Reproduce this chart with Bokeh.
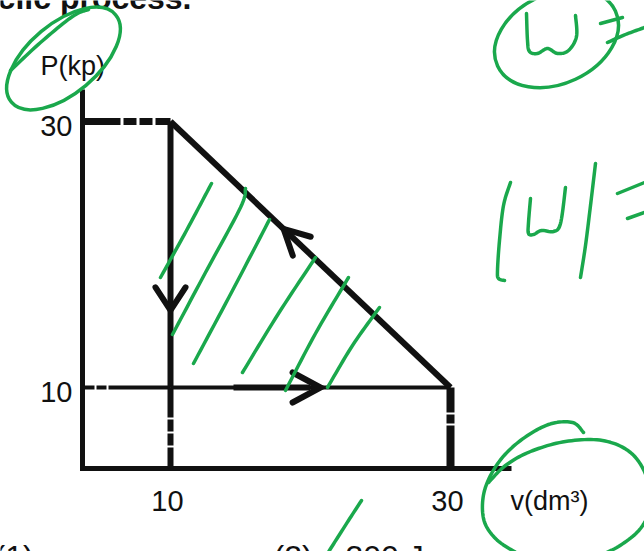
import numpy as np
from bokeh.plotting import figure
from bokeh.models import Range1d
from bokeh.core.properties import value
from bokeh.embed import file_html
from bokeh.resources import INLINE

# ---- cycle data: volume (dm^3) and pressure (kPa) of the three states ----
state_names = ["A", "B", "C"]
state_v = [10, 10, 30]
state_p = [30, 10, 10]

v_ticks = [10, 30]
v_tick_labels = ["10", "30"]
p_ticks = [10, 30]
p_tick_labels = ["10", "30"]

# ---- page geometry ----
W, H = 644, 551
X10, X30 = 170, 450          # screen x of V = 10 and V = 30
Y10, Y30 = 387, 121          # screen y of P = 10 and P = 30
SX = (X30 - X10) / 20.0
SY = (Y10 - Y30) / 20.0
TEXT_SHIFT = -10             # lifts the baseline of every text


def dx(px):
    return 10 + (px - X10) / SX


def dy(py):
    return 10 + (Y10 - py) / SY


def to_px(v, pr):
    return X10 + (v - 10) * SX, Y10 - (pr - 10) * SY


p = figure(width=W, height=H, x_range=Range1d(dx(0), dx(W)),
           y_range=Range1d(dy(H), dy(0)), x_axis_type=None, y_axis_type=None,
           output_backend="svg", toolbar_location=None, min_border=0)
p.grid.visible = False
p.outline_line_color = None
p.background_fill_color = "white"
p.border_fill_color = "white"

INK = "#111111"
GREEN = "#1aa84c"
FONT = value("Liberation Sans")

# axis frame
v0, p0 = dx(82), dy(468)
v_end, p_top = dx(511), dy(89)
p.line([v0, v0, v_end], [p_top, p0, p0], line_width=5, line_color=INK,
       line_join="miter")

# dashed guides from the states to the axes
A, B, C = 0, 1, 2
p.line([v0, state_v[A]], [state_p[A], state_p[A]], line_width=7,
       line_color=INK, line_dash="38 3 13 3 13 3")
p.line([v0, state_v[B]], [state_p[B], state_p[B]], line_width=4,
       line_color=INK, line_dash="12 2 10 2 200 2")
p.line([state_v[B], state_v[B]], [state_p[B], p0], line_width=6,
       line_color=INK, line_dash="30 2 12 2 12 2 60 2")
p.line([state_v[C], state_v[C]], [state_p[C], p0], line_width=8,
       line_color=INK, line_dash="25 2 9 2 80 2")

# the three processes A->B, B->C, C->A
p.line([state_v[A], state_v[B]], [state_p[A], state_p[B]], line_width=6,
       line_color=INK)
p.line([state_v[B], state_v[C]], [state_p[B], state_p[C]], line_width=4,
       line_color=INK)
p.line([state_v[C], state_v[A]], [state_p[C], state_p[A]], line_width=6,
       line_color=INK)

# heavier stroke on part of B->C
t0, t1 = 0.225, 0.5
p.line([state_v[B] + t0 * (state_v[C] - state_v[B]),
        state_v[B] + t1 * (state_v[C] - state_v[B])],
       [state_p[B], state_p[C]], line_width=6, line_color=INK)


def arrow_head(i, j, t, length, half):
    x1, y1 = to_px(state_v[i], state_p[i])
    x2, y2 = to_px(state_v[j], state_p[j])
    tx, ty = x1 + t * (x2 - x1), y1 + t * (y2 - y1)
    ux, uy = x2 - x1, y2 - y1
    n = np.hypot(ux, uy)
    ux, uy = ux / n, uy / n
    bx, by = tx - length * ux, ty - length * uy
    w1 = (bx + half * uy, by - half * ux)
    w2 = (bx - half * uy, by + half * ux)
    xs = [dx(w1[0]), dx(tx), dx(w2[0])]
    ys = [dy(w1[1]), dy(ty), dy(w2[1])]
    return xs, ys


heads = [arrow_head(A, B, 0.71, 23, 15),
         arrow_head(B, C, 0.536, 28, 15),
         arrow_head(C, A, 0.596, 25, 13)]
p.multi_line([h[0] for h in heads], [h[1] for h in heads], line_width=6,
             line_color=INK, line_join="miter", line_cap="round")

# tick labels and axis titles
p.text(x=[v0] * 2, y=p_ticks, text=p_tick_labels, x_offset=-10,
       y_offset=14 + TEXT_SHIFT, text_align="right",
       text_baseline="alphabetic", text_font=FONT, text_font_size="29px",
       text_color=INK)
p.text(x=v_ticks, y=[p0] * 2, text=v_tick_labels, x_offset=-3,
       y_offset=42 + TEXT_SHIFT, text_align="center",
       text_baseline="alphabetic", text_font=FONT, text_font_size="29px",
       text_color=INK)
p.text(x=[v0], y=[p_top], text=["P(kp)"], x_offset=-42,
       y_offset=-14 + TEXT_SHIFT, text_align="left",
       text_baseline="alphabetic", text_font=FONT, text_font_size="27px",
       text_color=INK)
p.text(x=[v_end], y=[p0], text=["v(dm³)"], x_offset=-1,
       y_offset=42 + TEXT_SHIFT, text_align="left",
       text_baseline="alphabetic", text_font=FONT, text_font_size="27px",
       text_color=INK)

# surrounding question text (cut by the page edges)
p.text(x=[dx(191)], y=[dy(7)], text=["cyclic process."], y_offset=TEXT_SHIFT,
       text_align="right", text_baseline="alphabetic", text_font=FONT,
       text_font_size="32px", text_font_style="bold", text_color=INK)
p.text(x=[dx(-6), dx(273), dx(345)], y=[dy(566)] * 3,
       text=["(1)", "(2)", "300 J"], y_offset=TEXT_SHIFT, text_align="left",
       text_baseline="alphabetic", text_font=FONT, text_font_size="32px",
       text_color=INK)


# ---- green pen annotations (screen pixels) ----
def smooth(pts, n=12):
    pts = np.asarray(pts, dtype=float)
    if len(pts) < 3:
        return pts[:, 0], pts[:, 1]
    ext = np.vstack([pts[0], pts, pts[-1]])
    out = []
    for k in range(1, len(ext) - 2):
        p0_, p1_, p2_, p3_ = ext[k - 1], ext[k], ext[k + 1], ext[k + 2]
        for s in np.linspace(0, 1, n, endpoint=False):
            out.append(0.5 * ((2 * p1_) + (-p0_ + p2_) * s
                              + (2 * p0_ - 5 * p1_ + 4 * p2_ - p3_) * s ** 2
                              + (-p0_ + 3 * p1_ - 3 * p2_ + p3_) * s ** 3))
    out.append(ext[-2])
    out = np.array(out)
    return out[:, 0], out[:, 1]


strokes = [
    # hatching inside the cycle
    [(211, 183), (186, 230), (160, 277)],
    [(245, 188), (240, 207), (205, 272), (172, 334)],
    [(269, 219), (232, 290), (193, 363)],
    [(315, 257), (278, 313), (242, 372)],
    [(348, 277), (315, 333), (285, 390)],
    [(379, 307), (352, 345), (327, 387)],
    # stroke across the P label ring
    [(10, 70), (40, 42), (72, 16), (88, 9)],
    # "W ="
    [(526, 13), (527, 40), (529, 51), (537, 53), (547, 48), (557, 53),
     (568, 50), (576, 36), (575, 15)],
    [(600, 23), (622, 17)],
    [(607, 42), (625, 34), (644, 27)],
    # "|W| ="
    [(510, 182), (503, 205), (499, 240), (497, 270), (498, 278), (504, 280)],
    [(530, 198), (528, 222), (528, 233), (533, 234), (541, 230), (553, 231),
     (560, 223), (565, 187)],
    [(595, 163), (590, 205), (585, 245), (580, 277)],
    [(617, 193), (644, 182)],
    [(627, 218), (644, 212)],
    # ring around the volume label
    [(583, 432), (572, 422), (548, 424), (520, 440), (498, 462), (484, 490),
     (483, 518), (494, 537), (512, 550), (530, 558)],
    [(488, 482), (505, 465), (530, 451), (565, 441), (602, 440), (630, 452),
     (646, 476), (650, 505), (640, 528), (618, 546), (592, 558)],
    # slash near the answers
    [(361, 500), (348, 520), (327, 553)],
]
sx_list, sy_list = [], []
for s in strokes:
    xs, ys = smooth(s)
    sx_list.append([dx(v) for v in xs])
    sy_list.append([dy(v) for v in ys])
p.multi_line(sx_list, sy_list, line_color=GREEN, line_width=3.5,
             line_cap="round", line_join="round")

# rings around "P(kp)" and "W"
p.ellipse(x=[dx(63), dx(556)], y=[dy(58), dy(38)], width=[136, 130],
          height=[70, 90], angle=[np.deg2rad(40), np.deg2rad(25)],
          width_units="screen", height_units="screen", fill_alpha=0,
          line_color=GREEN, line_width=3.5)

open("out.html", "w").write(file_html(p, INLINE))
